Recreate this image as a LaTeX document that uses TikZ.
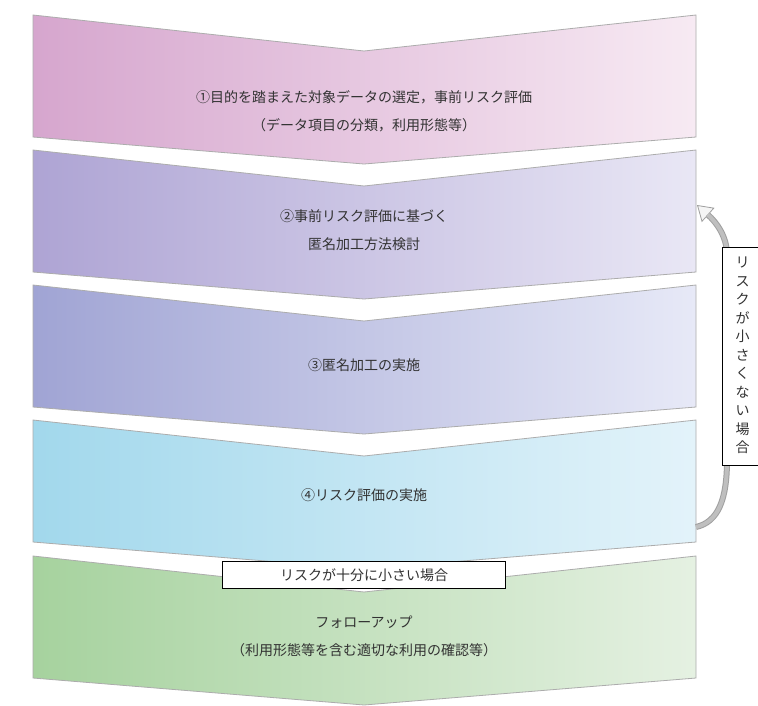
\documentclass[tikz,border=0pt]{standalone}
\usepackage{fontspec}
\newfontfamily\cjk{Noto Sans CJK JP}
\usetikzlibrary{arrows.meta}
\definecolor{pinkL}{RGB}{214,166,206}
\definecolor{pinkR}{RGB}{247,234,243}
\definecolor{lavL}{RGB}{174,164,212}
\definecolor{lavR}{RGB}{233,231,245}
\definecolor{blueL}{RGB}{160,164,212}
\definecolor{blueR}{RGB}{231,233,247}
\definecolor{cyanL}{RGB}{162,216,236}
\definecolor{cyanR}{RGB}{227,243,250}
\definecolor{greenL}{RGB}{166,210,158}
\definecolor{greenR}{RGB}{229,241,226}
\definecolor{ink}{RGB}{50,50,50}
\tikzstyle{Step}=[align=center, text=ink, font=\cjk\fontsize{14}{28}\selectfont]
\tikzstyle{Chevron}=[draw=gray!65, line width=0.8pt]
\tikzstyle{Note}=[draw=black, fill=white, text=ink, font=\cjk\fontsize{14}{18.5}\selectfont]
\newcommand{\chevron}[3]{\path[Chevron, left color=#2, right color=#3]
    (33,#1) -- (364,#1+36) -- (696,#1) -- (696,#1+122) -- (364,#1+149) -- (33,#1+122) -- cycle;}

\begin{document}
\begin{tikzpicture}[x=1pt, y=-1pt]
    \useasboundingbox (0,0) rectangle (758,705);
    \clip (0,0) rectangle (758,705);
    \fill[white] (0,0) rectangle (758,705);

    \chevron{15}{pinkL}{pinkR}
    \chevron{150}{lavL}{lavR}
    \chevron{285}{blueL}{blueR}
    \chevron{420}{cyanL}{cyanR}
    \chevron{556}{greenL}{greenR}

    \path
    (364,111) node[Step] (step1) {①目的を踏まえた対象データの選定，事前リスク評価\\（データ項目の分類，利用形態等）}
    (364,230) node[Step] (step2) {②事前リスク評価に基づく\\匿名加工方法検討}
    (364,365) node[Step] (step3) {③匿名加工の実施}
    (364,495) node[Step] (step4) {④リスク評価の実施}
    (364,636) node[Step] (step5) {フォローアップ\\（利用形態等を含む適切な利用の確認等）};

    \coordinate (back) at (696,527);
    \coordinate (again) at (697,205);
    \draw[line width=6pt, gray!75, -{Triangle[length=15pt, width=19pt, line width=0.8pt, fill=gray!8]}]
        (back) .. controls (718,522) and (727,500) .. (727,460) -- (727,255) .. controls (727,236) and (716,222) .. (again);
    \draw[line width=4pt, gray!50, shorten >=14pt]
        (back) .. controls (718,522) and (727,500) .. (727,460) -- (727,255) .. controls (727,236) and (716,222) .. (again);

    \node[Note, line width=1.3pt, minimum width=48, minimum height=218, anchor=north west, inner xsep=0pt]
        (bigrisk) at (722,247) {\hspace*{-8pt}\begin{tabular}{@{}c@{}}リ\\ス\\ク\\が\\小\\さ\\く\\な\\い\\場\\合\end{tabular}};
    \node[Note, line width=1.8pt, minimum width=283, minimum height=27, inner sep=0pt]
        (smallrisk) at (364,575) {リスクが十分に小さい場合};
\end{tikzpicture}
\end{document}
